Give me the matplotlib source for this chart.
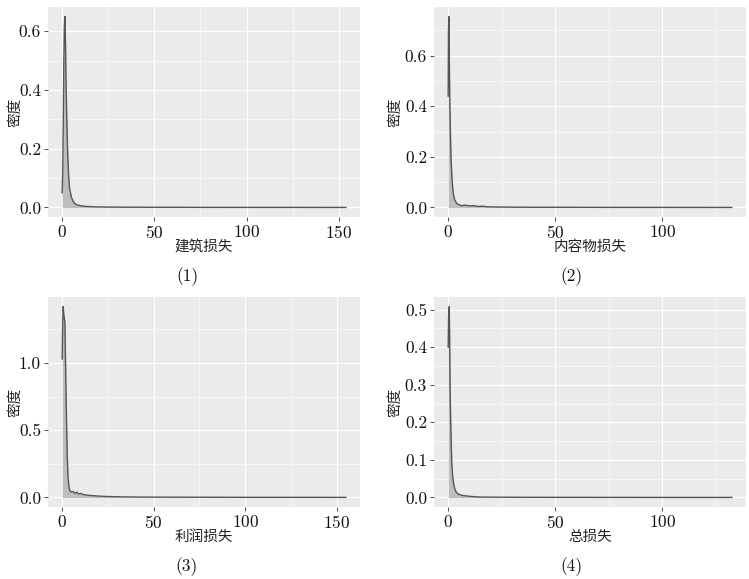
"""Four density panels of loss variables (ggplot-like style)."""
import matplotlib.pyplot as plt
from matplotlib.ticker import MultipleLocator, FormatStrFormatter

plt.rcParams["font.family"] = ["cmr10", "DejaVu Serif"]
plt.rcParams["axes.formatter.use_mathtext"] = True
CJK = ["Noto Sans CJK SC", "DejaVu Sans"]

# (1) building loss
x1 = [0, 0.3, 0.6, 0.9, 1.2, 1.5, 1.8, 2.1, 2.5, 3.0, 3.5, 4.0, 5.0, 6.0, 7.0,
      8.0, 10, 12, 15, 18, 22, 30, 40, 60, 80, 100, 120, 140, 153.8]
y1 = [0.05, 0.12, 0.30, 0.50, 0.62, 0.65, 0.56, 0.42, 0.30, 0.18, 0.11, 0.065,
      0.035, 0.02, 0.013, 0.009, 0.006, 0.004, 0.003, 0.002, 0.0015, 0.001,
      0.0008, 0.0005, 0.0003, 0.0002, 0.0002, 0.0001, 0.0001]

# (2) contents loss
x2 = [0, 0.15, 0.3, 0.5, 0.8, 1.1, 1.4, 1.8, 2.3, 3.0, 4.0, 5.0, 6.0, 8.0, 10,
      12, 14, 16, 18, 20, 25, 30, 40, 60, 80, 100, 120, 132.4]
y2 = [0.44, 0.70, 0.755, 0.60, 0.40, 0.27, 0.18, 0.11, 0.06, 0.03, 0.016, 0.011,
      0.007, 0.009, 0.006, 0.007, 0.004, 0.005, 0.003, 0.002, 0.0015, 0.001,
      0.0008, 0.0005, 0.0003, 0.0002, 0.0001, 0.0001]

# (3) profit loss
x3 = [0, 0.3, 0.55, 0.9, 1.2, 1.5, 1.9, 2.4, 2.8, 3.2, 3.7, 4.2, 5.0, 6.0, 7.0,
      8.0, 9.0, 10, 12, 15, 18, 20, 25, 30, 40, 60, 80, 100, 120, 140, 155]
y3 = [1.03, 1.30, 1.42, 1.36, 1.33, 1.30, 0.95, 0.55, 0.30, 0.15, 0.08, 0.05,
      0.04, 0.045, 0.03, 0.04, 0.025, 0.03, 0.02, 0.015, 0.012, 0.01, 0.007,
      0.005, 0.003, 0.002, 0.0015, 0.001, 0.001, 0.0008, 0.0005]

# (4) total loss
x4 = [0, 0.2, 0.5, 0.7, 0.9, 1.1, 1.4, 1.7, 2.1, 2.6, 3.2, 4.0, 5.0, 7.0, 10,
      15, 20, 30, 40, 60, 80, 100, 120, 132.5]
y4 = [0.40, 0.48, 0.508, 0.42, 0.29, 0.22, 0.15, 0.09, 0.055, 0.035, 0.02,
      0.012, 0.008, 0.005, 0.003, 0.001, 0.0008, 0.0005, 0.0004, 0.0003,
      0.0002, 0.0001, 0.0001, 0.0001]

xlabels = ["建筑损失", "内容物损失", "利润损失", "总损失"]
captions = ["(1)", "(2)", "(3)", "(4)"]
ysteps = [0.2, 0.2, 0.5, 0.1]

W, H = 749, 579
fig = plt.figure(figsize=(W / 100, H / 100), dpi=100)

# panel boxes in pixels: left, top, right, bottom
boxes = [(48, 7, 360, 217), (434, 7, 746, 217),
         (48, 297, 360, 507), (434, 297, 746, 507)]
cap_x = [187, 571, 187, 571]
ylab_x = [15, 395, 15, 395]

series = [(x1, y1), (x2, y2), (x3, y3), (x4, y4)]
for i, ((xs, ys), (l, t, r, b)) in enumerate(zip(series, boxes)):
    ax = fig.add_axes([l / W, 1 - b / H, (r - l) / W, (b - t) / H])
    ax.set_facecolor("#EBEBEB")
    ax.fill_between(xs, 0, ys, color="#BDBDBD", lw=0)
    ax.plot(xs, ys, color="#555555", lw=1.0)

    xr = max(xs) - min(xs)
    ax.set_xlim(min(xs) - 0.05 * xr, max(xs) + 0.05 * xr)
    ym = max(ys)
    ax.set_ylim(-0.05 * ym, 1.05 * ym)

    ax.xaxis.set_major_locator(MultipleLocator(50))
    ax.xaxis.set_minor_locator(MultipleLocator(25))
    ax.yaxis.set_major_locator(MultipleLocator(ysteps[i]))
    ax.yaxis.set_minor_locator(MultipleLocator(ysteps[i] / 2))
    ax.yaxis.set_major_formatter(FormatStrFormatter("%.1f"))
    ax.grid(which="major", color="white", lw=0.8)
    ax.grid(which="minor", color="white", lw=0.4)
    ax.set_axisbelow(True)
    for s in ax.spines.values():
        s.set_visible(False)
    ax.tick_params(which="major", length=3, width=0.6, color="#333333",
                   labelsize=12.5, labelcolor="#111111", pad=2)
    ax.tick_params(which="minor", length=0)

    fig.text(((l + r) / 2) / W, 1 - (b + 30) / H, xlabels[i], family=CJK,
             fontsize=10.5, fontweight="light", ha="center", va="center",
             color="#222222")
    fig.text(ylab_x[i] / W, 1 - ((t + b) / 2) / H, "密度", family=CJK,
             fontsize=10.5, fontweight="light", rotation=90, ha="center",
             va="center", color="#222222")
    fig.text(cap_x[i] / W, 1 - (b + 60) / H, captions[i], fontsize=12.5,
             ha="center", va="center", color="#111111")

fig.savefig("out.png", dpi=100)
